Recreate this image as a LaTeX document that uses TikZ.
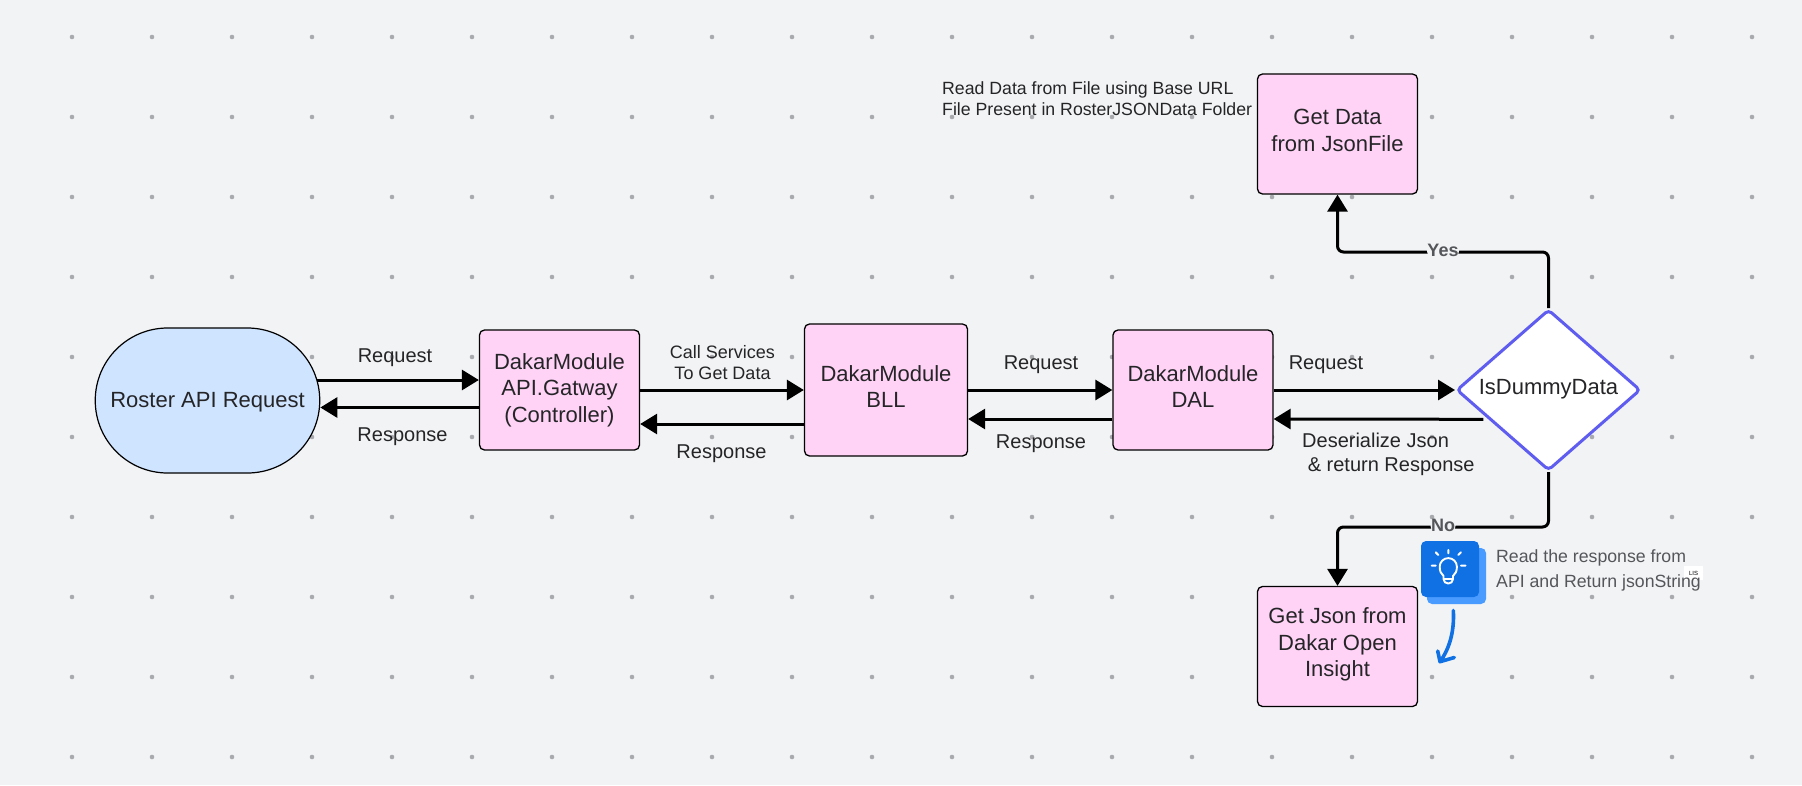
\documentclass[tikz,border=0pt]{standalone}
\usepackage{fontspec}
\setmainfont{Liberation Sans}
\usetikzlibrary{arrows.meta,shapes.geometric}
\definecolor{pagebg}{HTML}{F2F3F5}
\definecolor{griddot}{HTML}{A9AAAE}
\definecolor{modulepink}{HTML}{FFD3F6}
\definecolor{rosterblue}{HTML}{CFE4FF}
\definecolor{dummyline}{HTML}{5F5CF0}
\definecolor{inktext}{HTML}{252528}
\definecolor{greytext}{HTML}{55565A}
\definecolor{tipfront}{HTML}{1071E5}
\definecolor{tipback}{HTML}{4A9BFF}
\newcommand{\tailroom}[1]{\rule[-#1pt]{0pt}{#1pt}}

\begin{document}
\begin{tikzpicture}[x=1pt, y=-1pt,
  modulebox/.style = {shape=rectangle, draw=black, line width=1.3pt,
    rounded corners=5pt, fill=modulepink, text=inktext, align=center,
    minimum width=160pt, minimum height=120pt, inner sep=0pt,
    font=\fontsize{22}{26.5}\selectfont},
  flowtext/.style = {text=inktext, align=center, inner sep=0pt,
    font=\fontsize{20}{24}\selectfont},
  smalltext/.style = {text=inktext, align=left, inner sep=0pt,
    font=\fontsize{17.7}{21.2}\selectfont},
  flowline/.style = {line width=3pt, black, -{Triangle[length=17pt,width=20pt]}},
  branchline/.style = {flowline, rounded corners=6pt},
  branchtext/.style = {fill=pagebg, text=greytext, inner sep=0.5pt, yshift=2pt,
    font=\fontsize{18}{21}\selectfont\bfseries}]

  \useasboundingbox (0,0) rectangle (1802,785);
  \fill[pagebg] (0,0) rectangle (1802,785);
  \foreach \gx in {0,...,21}
    \foreach \gy in {0,...,9}
      \fill[griddot] (72+80*\gx,37+80*\gy) circle (2.3pt);

  \node[draw=black, line width=1.2pt, fill=rosterblue, text=inktext,
    rounded corners=72.4pt, minimum width=224.5pt, minimum height=145pt,
    font=\fontsize{22}{26.5}\selectfont] (roster) at (207.5,400.5) {\rule{0pt}{18pt}Roster API Request};
  \node[modulebox] (gateway) at (559.5,390) {DakarModule\\API.Gatway\\(Controller)};
  \node[modulebox, minimum width=163pt, minimum height=132pt] (bll) at (886,390) {DakarModule\\BLL\tailroom{7}};
  \node[modulebox] (dal) at (1193,390) {DakarModule\\DAL\tailroom{7}};
  \node[shape=diamond, draw=dummyline, line width=3pt, rounded corners=4pt, fill=white,
    text=inktext, aspect=1.16, inner sep=0pt, minimum width=184pt, minimum height=161pt,
    font=\fontsize{22}{26.5}\selectfont] (dummy) at (1548.5,390) {IsDummyData\tailroom{7}};
  \node[modulebox] (jsonfile) at (1337.5,134) {Get Data\\from JsonFile\tailroom{7}};
  \node[modulebox] (openinsight) at (1337.5,646.5) {Get Json from\\Dakar Open\\Insight\tailroom{8.6}};

  \coordinate (yesturn) at (1337.5,252);
  \coordinate (noturn) at (1337.5,527);

  \draw[flowline] ([xshift=-3pt,yshift=20.5pt]roster.east) -- ([yshift=10pt]gateway.west);
  \draw[flowline] ([yshift=-17.5pt]gateway.west) -- ([yshift=-7pt]roster.east);
  \draw[flowline] (gateway.east) -- (bll.west);
  \draw[flowline] ([yshift=-34pt]bll.west) -- ([yshift=-34pt]gateway.east);
  \draw[flowline] (bll.east) -- (dal.west);
  \draw[flowline] ([yshift=-29pt]dal.west) -- ([yshift=-29pt]bll.east);
  \draw[flowline] (dal.east) -- (dummy.west);
  \draw[flowline] ([xshift=-5pt]dummy.206.6) -- ([yshift=-29pt]dal.east);
  \draw[branchline] (dummy.north) |- node[branchtext, pos=0.75] (yestext) {Yes} (yesturn) -- (jsonfile.south);
  \draw[branchline] (dummy.south) |- node[branchtext, pos=0.75] (notext) {No} (noturn) -- (openinsight.north);

  \node[flowtext] (gatewayreq) at (395,357.5) {Request};
  \node[flowtext] (gatewayres) at (402.5,436.5) {Response};
  \node[smalltext, align=center, font=\fontsize{18}{21.2}\selectfont] (callservices) at (722.5,362.5) {Call Services\\ To Get Data};
  \node[flowtext] (bllres) at (721.5,453.5) {Response};
  \node[flowtext] (dalreq) at (1041,364.5) {Request};
  \node[flowtext] (dalres) at (1041,444) {Response};
  \node[flowtext] (dummyreq) at (1326,364.5) {Request};
  \node[flowtext, align=left, anchor=west, font=\fontsize{20}{23.5}\selectfont] (dummyres) at (1302,454.5)
    {Deserialize Json\\\hspace*{5.6pt}\& return Response};
  \node[smalltext, anchor=west] (readdata) at (942,98.5)
    {Read Data from File using Base URL\\File Present in RosterJSONData Folder};

  % the note with the bulb
  \fill[tipback, rounded corners=5pt] (1427,548) rectangle (1486,604);
  \fill[tipfront, rounded corners=5pt] (1421,541) rectangle (1479,597);
  \draw[white, line width=1.9pt, line cap=round, line join=round]
    (1443.5,579) -- (1443.5,576) .. controls (1441,574) and (1439.7,571) .. (1439.7,566.7)
    arc[start angle=180, end angle=360, radius=8.6]
    .. controls (1456.9,571) and (1455.5,574) .. (1453,576) -- (1453,579)
    .. controls (1453,585) and (1443.5,585) .. (1443.5,579) -- cycle
    (1443.5,579) -- (1453,579);
  \draw[white, line width=2pt, line cap=round]
    (1448.3,550) -- (1448.3,553.3) (1435.7,552.3) -- (1438.3,555) (1460.9,552.3) -- (1458.3,555)
    (1431.7,565.7) -- (1435.7,565.7) (1461,565.7) -- (1465.5,565.7);
  \draw[tipfront, line width=3.6pt, line cap=round, line join=round]
    (1453.3,610.5) .. controls (1454.5,630) and (1450,648) .. (1440,661.7)
    (1437.7,651) -- (1440,661.7) -- (1454.3,657.5);
  \node[fill=white, inner sep=0pt, minimum width=19pt, minimum height=14pt, text=black,
    font=\fontsize{6}{7}\selectfont] (tiptag) at (1693.5,573) {LIS};
  \node[text=greytext, align=left, anchor=west, inner sep=0pt,
    font=\fontsize{17.7}{25}\selectfont] (tiptext) at (1496,570.5)
    {Read the response from\\API and Return jsonString};
\end{tikzpicture}
\end{document}
